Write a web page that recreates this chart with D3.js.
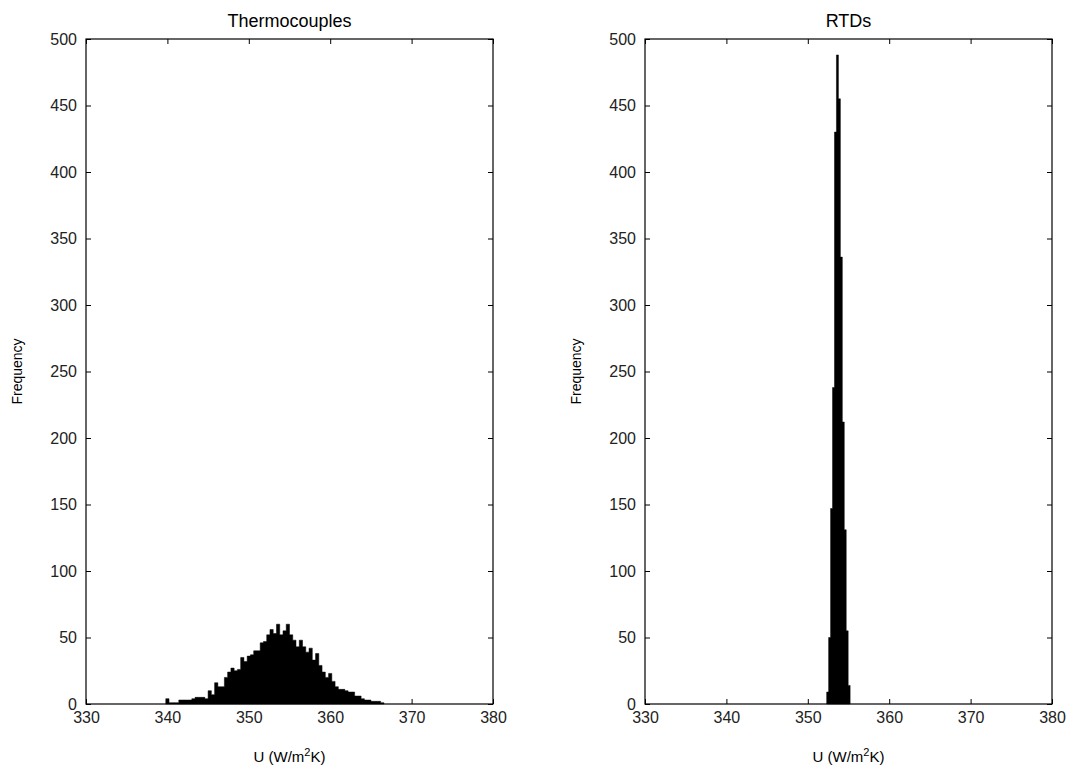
<!DOCTYPE html>
<html>
<head>
<meta charset="utf-8">
<script src="https://cdn.jsdelivr.net/npm/d3@7"></script>
<style>
  body { margin: 0; background: #fff; }
  svg { display: block; }
  .tick text { font-family: "Liberation Sans", Arial, sans-serif; font-size: 16px; fill: #222; }
  .tick line { stroke: #000; }
</style>
</head>
<body>
<svg id="chart"></svg>
<script>
// histogram data: bin start, bin width (W/m2K) and counts
var tcStart = 339.8, tcWidth = 0.4;
var tcCounts = [4, 1, 1, 1, 3, 3, 3, 3, 4, 5, 5, 5, 4, 10, 7, 16, 13, 13, 20, 24,
    27, 25, 26, 35, 32, 36, 37, 40, 40, 46, 47, 52, 56, 53, 60, 52, 55, 60, 52, 48,
    43, 48, 43, 39, 42, 33, 38, 29, 24, 20, 23, 17, 13, 11, 11, 10, 9, 9, 6, 6,
    4, 3, 3, 2, 2, 2, 1];
var rtdStart = 352.32, rtdWidth = 0.24;
var rtdCounts = [9, 50, 147, 238, 430, 488, 455, 336, 212, 131, 55, 14];

var xTicks = [330, 340, 350, 360, 370, 380];
var yTicks = [0, 50, 100, 150, 200, 250, 300, 350, 400, 450, 500];
var titles = ["Thermocouples", "RTDs"];

var chartW = 1075, chartH = 775;
var svg = d3.select("#chart").attr("width", chartW).attr("height", chartH);

var plotTop = 39, plotBottom = 704, plotW = 407;
var panelLeft = [86, 645];

// step points: each bin start holds its count, closing point at the last edge
function toSteps(start, w, counts) {
    var pts = counts.map(function (c, i) { return { u: start + i * w, n: c }; });
    pts.push({ u: start + counts.length * w, n: counts[counts.length - 1] });
    return pts;
}

var panels = [
    toSteps(tcStart, tcWidth, tcCounts),
    toSteps(rtdStart, rtdWidth, rtdCounts)
];

panels.forEach(function (steps, p) {
    var left = panelLeft[p];
    var x = d3.scaleLinear().domain([330, 380]).range([left, left + plotW]);
    var y = d3.scaleLinear().domain([0, 500]).range([plotBottom, plotTop]);
    var g = svg.append("g");

    var area = d3.area()
        .curve(d3.curveStepAfter)
        .x(function (d) { return x(d.u); })
        .y0(y(0))
        .y1(function (d) { return y(d.n); });

    g.append("path")
        .datum(steps)
        .attr("d", area)
        .attr("fill", "#000")
        .attr("stroke", "#000")
        .attr("stroke-width", 0.5);

    // axes, ticks pointing inward like matlab
    g.append("g").attr("transform", "translate(0," + plotBottom + ")")
        .call(d3.axisBottom(x).tickValues(xTicks).tickSizeInner(-5).tickSizeOuter(0).tickPadding(8))
        .call(function (a) { a.select(".domain").remove(); });
    g.append("g").attr("transform", "translate(0," + plotTop + ")")
        .call(d3.axisTop(x).tickValues(xTicks).tickSizeInner(-5).tickSizeOuter(0).tickFormat(""))
        .call(function (a) { a.select(".domain").remove(); });
    g.append("g").attr("transform", "translate(" + left + ",0)")
        .call(d3.axisLeft(y).tickValues(yTicks).tickSizeInner(-5).tickSizeOuter(0).tickPadding(9))
        .call(function (a) { a.select(".domain").remove(); });
    g.append("g").attr("transform", "translate(" + (left + plotW) + ",0)")
        .call(d3.axisRight(y).tickValues(yTicks).tickSizeInner(-5).tickSizeOuter(0).tickFormat(""))
        .call(function (a) { a.select(".domain").remove(); });

    g.append("rect")
        .attr("x", left).attr("y", plotTop)
        .attr("width", plotW).attr("height", plotBottom - plotTop)
        .attr("fill", "none").attr("stroke", "#000").attr("stroke-width", 1.2);

    var cx = left + plotW / 2;
    g.append("text")
        .attr("x", cx).attr("y", 27)
        .attr("text-anchor", "middle")
        .style("font-family", "Liberation Sans, Arial, sans-serif")
        .style("font-size", "18px")
        .text(titles[p]);

    var xl = g.append("text")
        .attr("x", cx).attr("y", 762)
        .attr("text-anchor", "middle")
        .style("font-family", "Liberation Sans, Arial, sans-serif")
        .style("font-size", "15px");
    xl.append("tspan").text("U (W/m");
    xl.append("tspan").attr("dy", -6).style("font-size", "11px").text("2");
    xl.append("tspan").attr("dy", 6).text("K)");

    g.append("text")
        .attr("transform", "translate(" + (left - 64) + "," + ((plotTop + plotBottom) / 2) + ") rotate(-90)")
        .attr("text-anchor", "middle")
        .style("font-family", "Liberation Sans Narrow, Liberation Sans, Arial, sans-serif")
        .style("font-size", "14px")
        .text("Frequency");
});
</script>
</body>
</html>
